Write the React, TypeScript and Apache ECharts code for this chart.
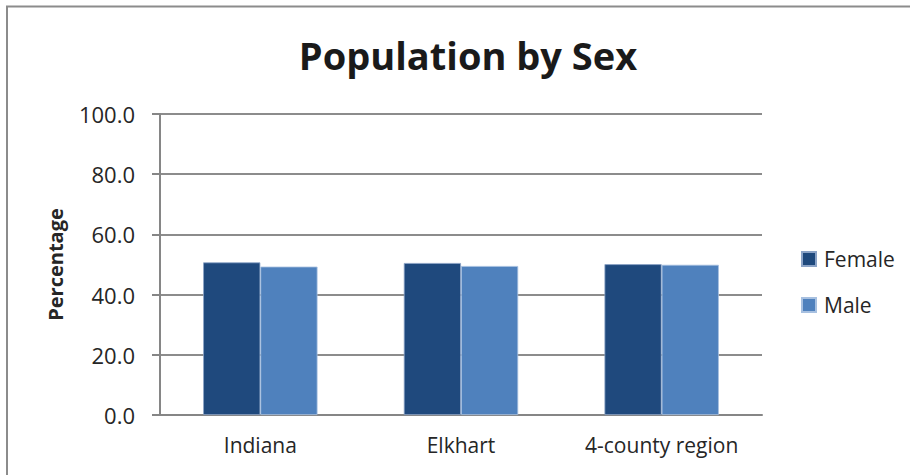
import React, { useEffect, useRef } from "react";
import * as echarts from "echarts";

const categories = ["Indiana", "Elkhart", "4-county region"];
const femaleValues = [50.7, 50.5, 50.1];
const maleValues = [49.3, 49.5, 49.9];
const yTicks = { min: 0, max: 100, interval: 20 };

const FONT = "'Open Sans', 'Noto Sans', sans-serif";
const TEXT = "#262626";

export default function App() {
  const ref = useRef<HTMLDivElement>(null);
  useEffect(() => {
    if (!ref.current) return;
    const chart = echarts.init(ref.current, undefined, { renderer: "svg" });
    chart.setOption({
      animation: false,
      backgroundColor: "#ffffff",
      title: {
        text: "Population by Sex",
        left: 463,
        textAlign: "center",
        top: 31,
        textStyle: { fontFamily: FONT, fontWeight: "bold", fontSize: 38, color: "#1a1a1a" },
      },
      graphic: [
        {
          type: "polyline",
          shape: { points: [[7, 480], [7, 6.5], [915, 6.5]] },
          style: { stroke: "#8c8c8c", lineWidth: 2, fill: "none" },
        },
      ],
      legend: {
        orient: "vertical",
        left: 801,
        top: 248,
        padding: 0,
        itemWidth: 14,
        itemHeight: 14,
        itemGap: 24,
        icon: "rect",
        data: ["Female", "Male"],
        textStyle: { fontFamily: FONT, fontSize: 21, color: TEXT, lineHeight: 22, padding: [0, 0, 0, 3] },
      },
      grid: { left: 160, right: 148, top: 114, bottom: 60, containLabel: false },
      xAxis: {
        type: "category",
        data: categories,
        axisLine: { lineStyle: { color: "#868686", width: 2 } },
        axisTick: { show: false },
        axisLabel: { fontFamily: FONT, fontSize: 21, color: TEXT, margin: 19 },
      },
      yAxis: {
        type: "value",
        min: yTicks.min,
        max: yTicks.max,
        interval: yTicks.interval,
        name: "Percentage",
        nameLocation: "middle",
        nameRotate: 90,
        nameGap: 95,
        nameTextStyle: { fontFamily: FONT, fontSize: 20, fontWeight: "bold", color: TEXT },
        axisLine: { show: true, lineStyle: { color: "#868686", width: 2 } },
        axisTick: { show: true, length: 8, lineStyle: { color: "#868686", width: 2 } },
        axisLabel: {
          fontFamily: FONT,
          fontSize: 22,
          color: TEXT,
          margin: 25,
          formatter: (v: number) => v.toFixed(1),
        },
        splitLine: { lineStyle: { color: "#8c8c8c", width: 2 } },
      },
      series: [
        {
          name: "Female",
          type: "bar",
          data: femaleValues,
          barGap: "0%",
          barCategoryGap: "43%",
          itemStyle: { color: "#1f497d", borderColor: "#8ba3c7", borderWidth: 0.8 },
        },
        {
          name: "Male",
          type: "bar",
          data: maleValues,
          barGap: "0%",
          barCategoryGap: "43%",
          itemStyle: { color: "#4f81bd", borderColor: "#a7c0e0", borderWidth: 0.8 },
        },
      ],
    });
    return () => chart.dispose();
  }, []);
  return (
    <div
      ref={ref}
      style={{ position: "fixed", left: 0, top: 0, width: 910, height: 475 }}
    />
  );
}
